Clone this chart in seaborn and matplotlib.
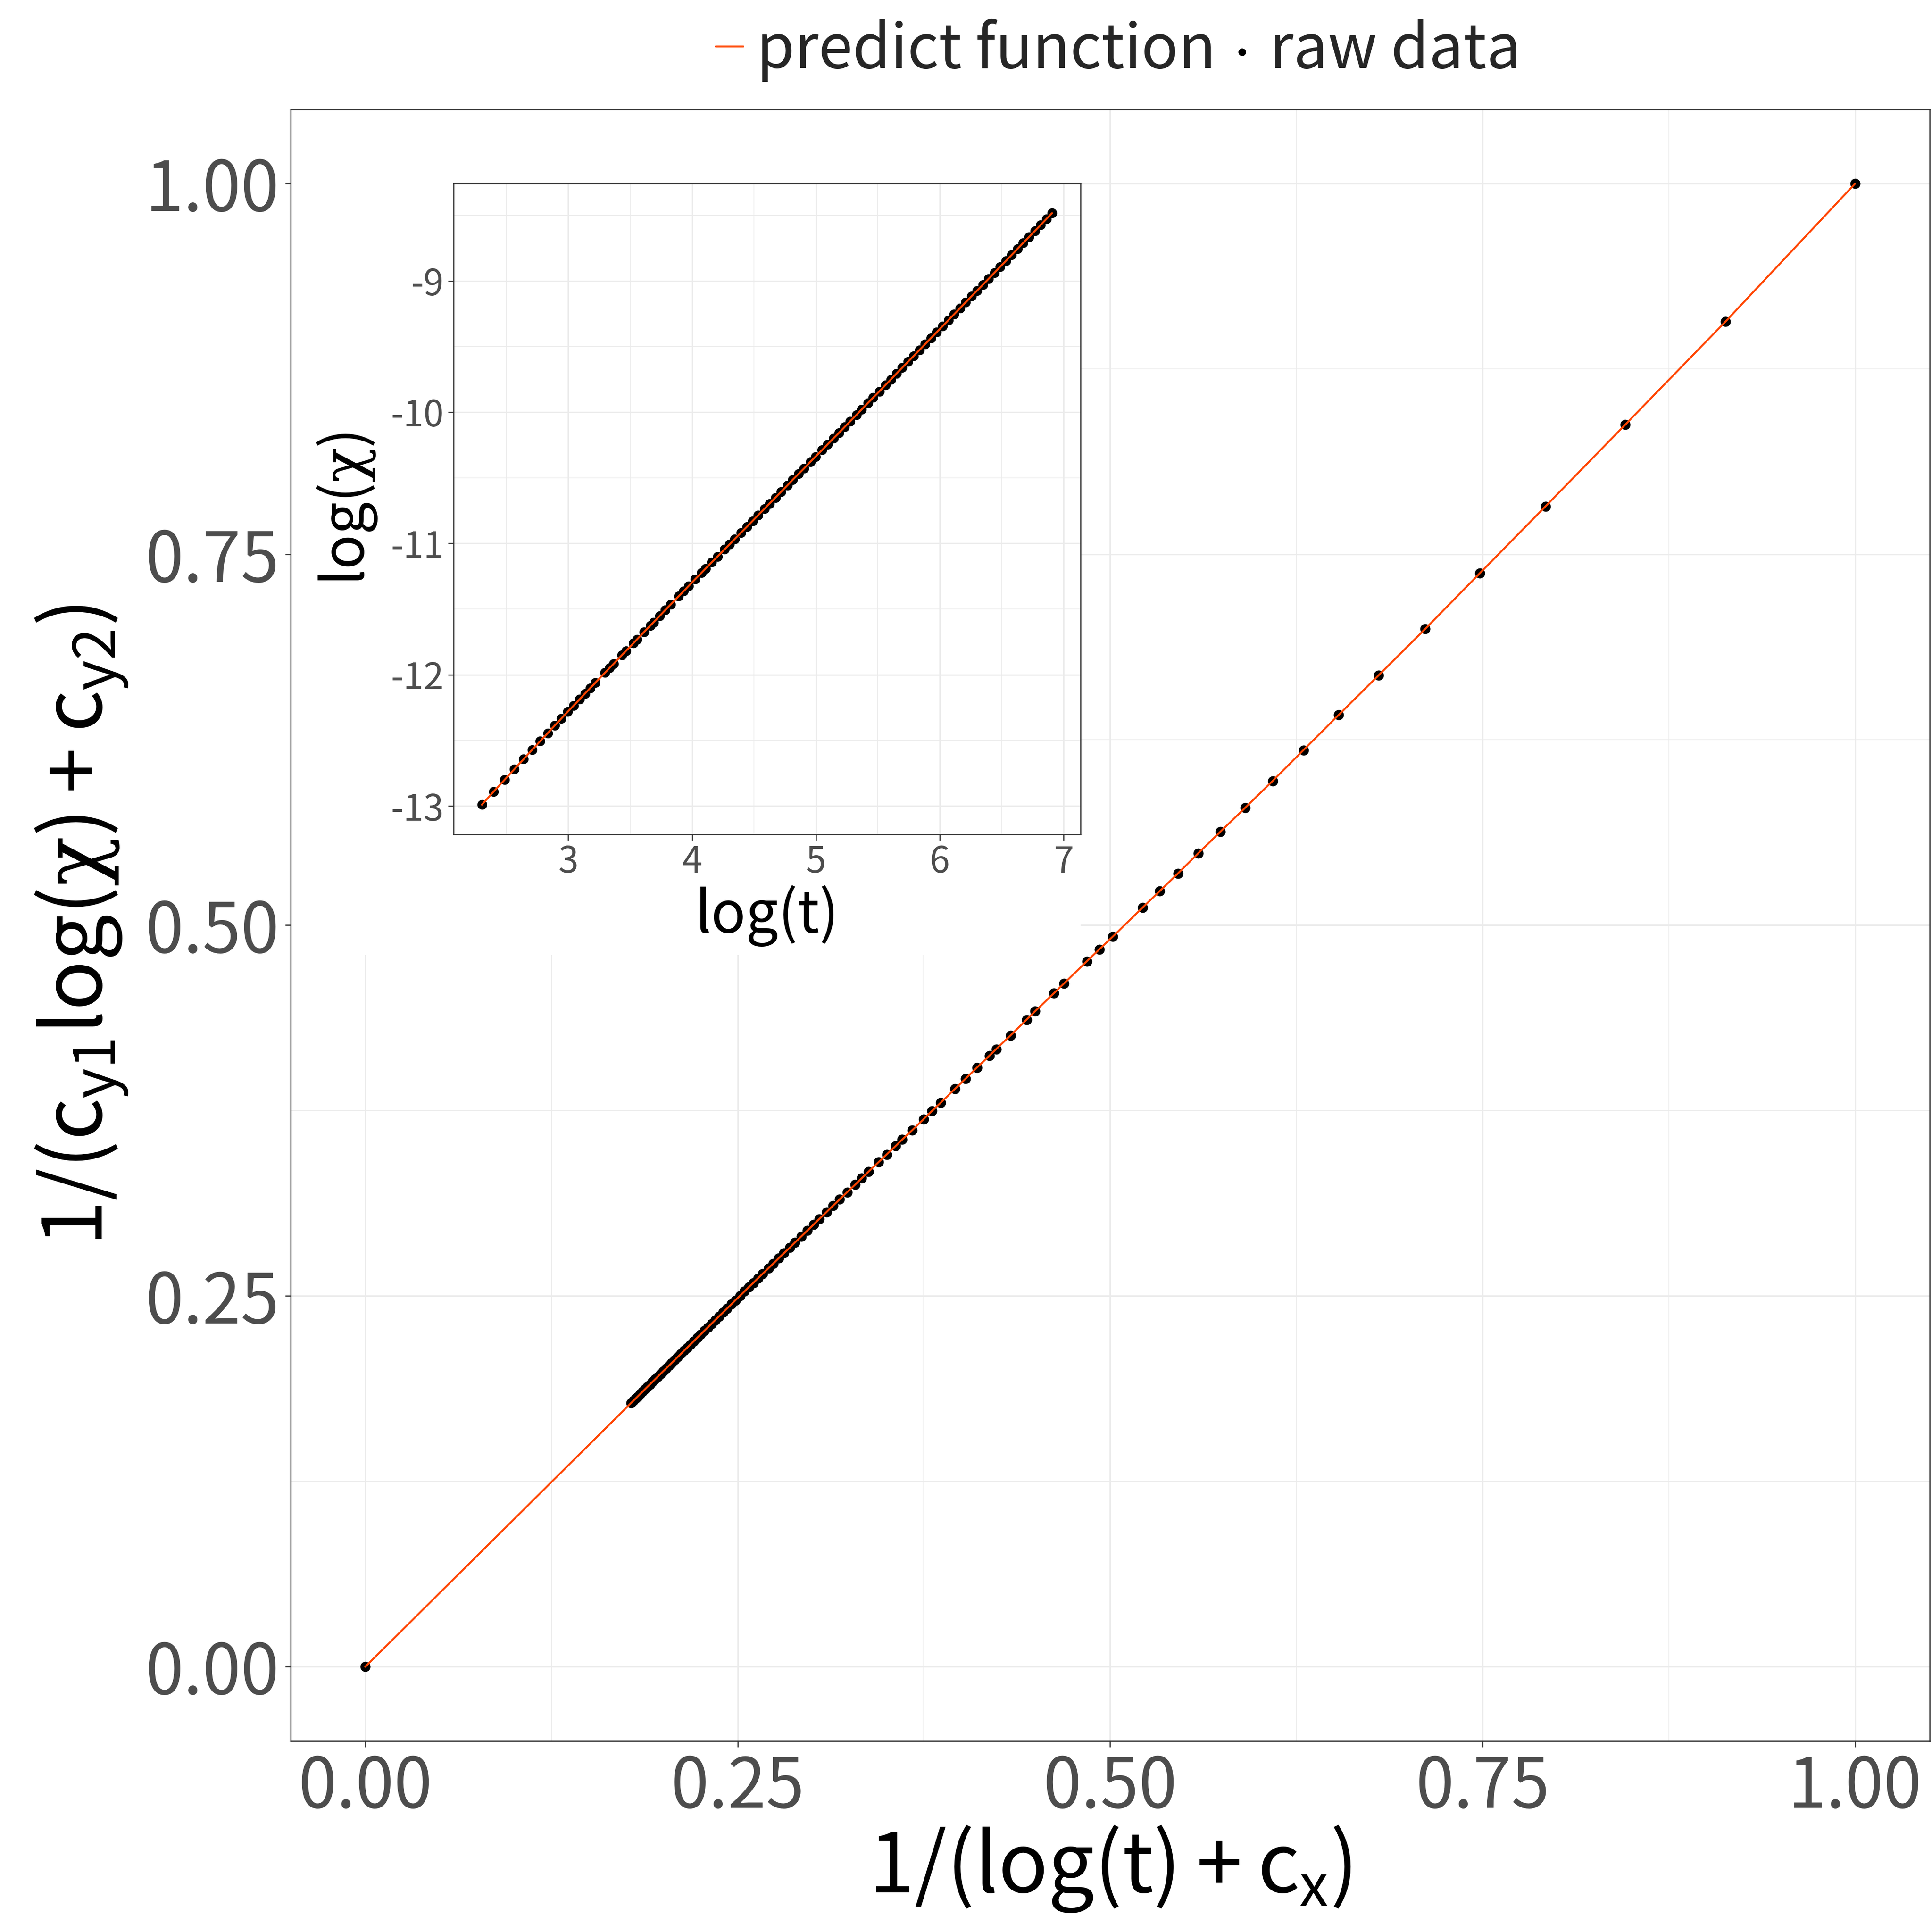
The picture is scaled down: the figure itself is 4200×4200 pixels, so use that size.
import numpy as np
import pandas as pd
import matplotlib
matplotlib.use("Agg")
import matplotlib.pyplot as plt
import seaborn as sns
from matplotlib.patches import Rectangle
from matplotlib.ticker import MultipleLocator, FixedLocator

# ---------------- data ----------------
log_t = [2.3026, 2.3979, 2.4849, 2.5649, 2.6391, 2.7081, 2.7726, 2.8332, 2.8904, 2.9444,
         2.9957, 3.0445, 3.0910, 3.1355, 3.1781, 3.2189, 3.2958, 3.3322, 3.3673, 3.4340,
         3.4657, 3.5264, 3.5553, 3.6109, 3.6636, 3.6889, 3.7377, 3.7842, 3.8286, 3.8918,
         3.9318, 3.9703, 4.0254, 4.0775, 4.1109, 4.1589, 4.2047, 4.2627, 4.3041, 4.3438,
         4.3944, 4.4427, 4.4886, 4.5326, 4.5850, 4.6250, 4.6728, 4.7185, 4.7707, 4.8122,
         4.8598, 4.9053, 4.9558, 4.9972, 5.0499, 5.0938, 5.1417, 5.1874, 5.2311, 5.2781,
         5.3279, 5.3706, 5.4205, 5.4638, 5.5134, 5.5607, 5.6058, 5.6525, 5.6971, 5.7462,
         5.7900, 5.8377, 5.8833, 5.9296, 5.9764, 6.0234, 6.0707, 6.1159, 6.1633, 6.2106,
         6.2558, 6.3026, 6.3491, 6.3953, 6.4425, 6.4892, 6.5352, 6.5820, 6.6280, 6.6746,
         6.7214, 6.7685, 6.8145, 6.8617, 6.9078]

log_chi = [-12.990, -12.890, -12.801, -12.719, -12.643, -12.572, -12.507, -12.446, -12.388, -12.333,
           -12.282, -12.234, -12.188, -12.143, -12.101, -12.061, -11.985, -11.950, -11.916, -11.850,
           -11.819, -11.760, -11.731, -11.676, -11.625, -11.600, -11.553, -11.507, -11.464, -11.402,
           -11.364, -11.326, -11.272, -11.223, -11.190, -11.144, -11.101, -11.045, -11.006, -10.967,
           -10.919, -10.873, -10.829, -10.786, -10.736, -10.697, -10.651, -10.607, -10.557, -10.516,
           -10.471, -10.428, -10.378, -10.339, -10.289, -10.246, -10.200, -10.157, -10.114, -10.069,
           -10.021, -9.979, -9.930, -9.888, -9.841, -9.795, -9.751, -9.705, -9.662, -9.614,
           -9.572, -9.526, -9.481, -9.436, -9.391, -9.345, -9.299, -9.255, -9.209, -9.163,
           -9.118, -9.074, -9.029, -8.984, -8.938, -8.892, -8.847, -8.802, -8.757, -8.711,
           -8.666, -8.620, -8.575, -8.529, -8.484]

# transformation constants of the axes: 1/(log(t)+c_x), 1/(c_y1 log(chi)+c_y2)
c_x = -1.3026
c_y1 = 1.02625
c_y2 = 14.331

# limit point (t -> infinity) shown at the origin of the main panel
limit_x = [0.0]
limit_y = [0.0]

main_ticks = [0.0, 0.25, 0.5, 0.75, 1.0]
main_tick_labels = ["0.00", "0.25", "0.50", "0.75", "1.00"]
inset_x_ticks = [3, 4, 5, 6, 7]
inset_x_tick_labels = ["3", "4", "5", "6", "7"]
inset_y_ticks = [-13, -12, -11, -10, -9]
inset_y_tick_labels = ["-13", "-12", "-11", "-10", "-9"]

legend_labels = ["predict function", "raw data"]

# ---------------- tables ----------------
lt = np.array(log_t)
lc = np.array(log_chi)
main_df = pd.DataFrame({
    "x": np.concatenate([limit_x, 1.0 / (lt + c_x)]),
    "y": np.concatenate([limit_y, 1.0 / (c_y1 * lc + c_y2)]),
})
inset_df = pd.DataFrame({"log_t": lt, "log_chi": lc})

# ---------------- style ----------------
sns.set_theme(style="white")
plt.rcParams["font.family"] = ["Noto Sans CJK JP", "DejaVu Sans"]
plt.rcParams["mathtext.fontset"] = "custom"
plt.rcParams["mathtext.rm"] = "Noto Sans CJK JP"
plt.rcParams["mathtext.it"] = "Noto Sans CJK JP"
plt.rcParams["mathtext.bf"] = "Noto Sans CJK JP"
plt.rcParams["mathtext.sf"] = "Noto Sans"
plt.rcParams["mathtext.tt"] = "DejaVu Serif"
plt.rcParams["axes.unicode_minus"] = False

LINE_COLOR = "#FF4500"
GRID = "#EBEBEB"
BORDER = "#333333"
TICKLAB = "#4D4D4D"


def style_axes(a, tick_size, pad):
    for s in a.spines.values():
        s.set_visible(True)
        s.set_color(BORDER)
        s.set_linewidth(0.6)
    a.set_facecolor("white")
    a.set_axisbelow(True)
    a.grid(True, which="major", color=GRID, linewidth=0.75)
    a.grid(True, which="minor", color=GRID, linewidth=0.4)
    a.tick_params(which="major", direction="out", length=3, width=0.6, color=BORDER,
                  labelcolor=TICKLAB, labelsize=tick_size, pad=pad,
                  bottom=True, left=True, top=False, right=False)
    a.tick_params(which="minor", length=0, bottom=False, left=False)


fig = plt.figure(figsize=(14, 14), dpi=300)
fig.patch.set_facecolor("white")

# ---------------- main panel ----------------
ax = fig.add_axes([0.1505, 0.0989, 0.8482, 0.8444])
sns.scatterplot(data=main_df, x="x", y="y", ax=ax, color="black", s=28, linewidth=0,
                zorder=2, label=legend_labels[1])
sns.lineplot(data=main_df, x="x", y="y", ax=ax, color=LINE_COLOR, linewidth=1.0,
             estimator=None, sort=True, zorder=3, label=legend_labels[0])

xr = main_df["x"].max() - main_df["x"].min()
yr = main_df["y"].max() - main_df["y"].min()
ax.set_xlim(main_df["x"].min() - 0.05 * xr, main_df["x"].max() + 0.05 * xr)
ax.set_ylim(main_df["y"].min() - 0.05 * yr, main_df["y"].max() + 0.05 * yr)
ax.xaxis.set_major_locator(FixedLocator(main_ticks))
ax.yaxis.set_major_locator(FixedLocator(main_ticks))
ax.set_xticklabels(main_tick_labels)
ax.set_yticklabels(main_tick_labels)
ax.xaxis.set_minor_locator(MultipleLocator(0.125))
ax.yaxis.set_minor_locator(MultipleLocator(0.125))
style_axes(ax, 36, 3)
ax.set_xlabel(r"$1/(log(t)+c_{x})$", fontsize=43, color="black", labelpad=0)
ax.set_ylabel(r"$1/(c_{y1}log(\mathtt{χ})+c_{y2})$", fontsize=43, color="black",
              labelpad=8)

# white background of the inset plot (covers the main grid)
ax.add_patch(Rectangle((-0.2, 0.48), 0.68, 0.6, facecolor="white", edgecolor="none",
                       zorder=1))

handles, labels = ax.get_legend_handles_labels()
order = [labels.index(l) for l in legend_labels]
leg = ax.legend([handles[i] for i in order], [labels[i] for i in order],
                loc="lower center", bbox_to_anchor=(0.505, 1.0), ncol=2, frameon=False,
                fontsize=32, handlelength=0.45, handletextpad=0.22, columnspacing=0.2,
                borderaxespad=0.05, markerscale=0.75)

# ---------------- inset ----------------
ins = fig.add_axes([0.2347, 0.5682, 0.3246, 0.3368])
sns.scatterplot(data=inset_df, x="log_t", y="log_chi", ax=ins, color="black", s=26,
                linewidth=0, zorder=2, legend=False)
sns.lineplot(data=inset_df, x="log_t", y="log_chi", ax=ins, color=LINE_COLOR,
             linewidth=1.0, estimator=None, zorder=3, legend=False)
ins.margins(0.05)
ins.xaxis.set_major_locator(FixedLocator(inset_x_ticks))
ins.yaxis.set_major_locator(FixedLocator(inset_y_ticks))
ins.set_xticklabels(inset_x_tick_labels)
ins.set_yticklabels(inset_y_tick_labels)
ins.xaxis.set_minor_locator(MultipleLocator(0.5))
ins.yaxis.set_minor_locator(MultipleLocator(0.5))
style_axes(ins, 19, 2)
ins.set_xlabel("log(t)", fontsize=30, color="black", labelpad=2)
ins.set_ylabel(r"$log(\mathtt{χ})$", fontsize=30, color="black", labelpad=6)

fig.savefig("out.png", dpi=300, facecolor="white")
